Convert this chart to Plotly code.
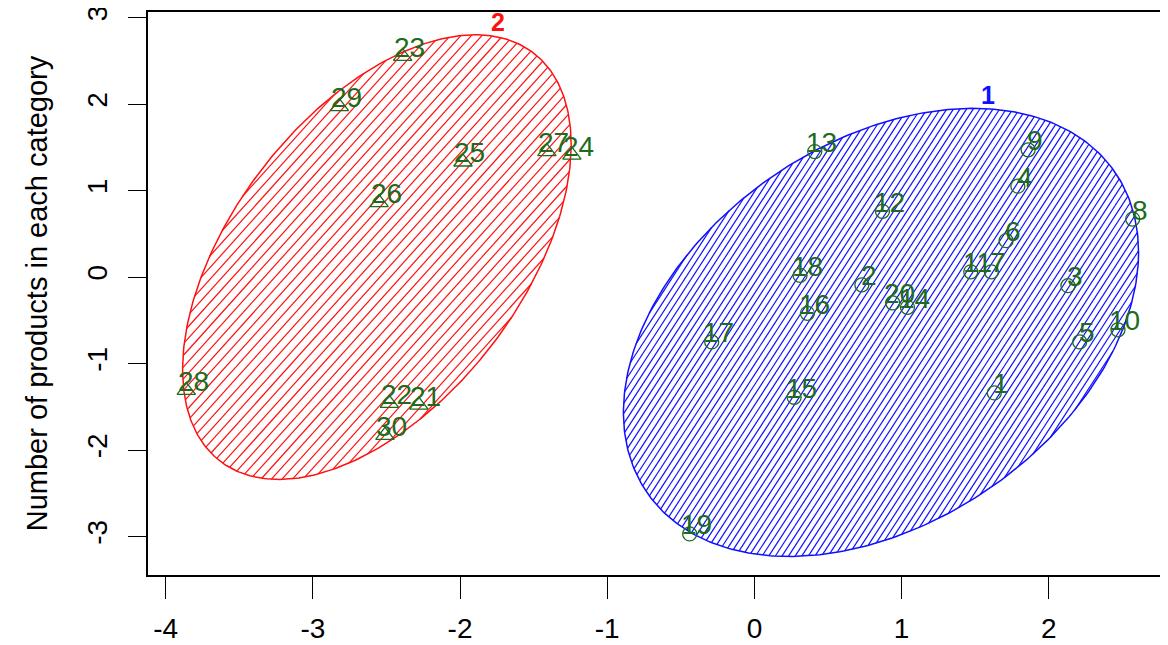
import numpy as np
import plotly.graph_objects as go

# ---- data ----
labels_c1 = [str(i) for i in range(1, 21)]
x_c1 = [1.63, 0.73, 2.13, 1.79, 2.21, 1.71, 1.61, 2.57, 1.86, 2.47,
        1.47, 0.87, 0.41, 1.04, 0.27, 0.36, -0.29, 0.31, -0.44, 0.94]
y_c1 = [-1.34, -0.09, -0.10, 1.05, -0.75, 0.42, 0.06, 0.67, 1.47, -0.61,
        0.06, 0.76, 1.45, -0.35, -1.39, -0.42, -0.75, 0.02, -2.97, -0.30]

labels_c2 = [str(i) for i in range(21, 31)]
x_c2 = [-2.28, -2.48, -2.39, -1.24, -1.98, -2.55, -1.41, -3.86, -2.82, -2.51]
y_c2 = [-1.48, -1.46, 2.55, 1.41, 1.33, 0.86, 1.45, -1.31, 1.97, -1.83]

# spanning ellipses: center, half-extent in x, half-extent in y, covariance term
cluster_names = ["1", "2"]
ell_cx = [0.86, -2.565]
ell_cy = [-0.64, 0.23]
ell_wx = [1.75, 1.32]
ell_wy = [2.59, 2.57]
ell_sxy = [1.62, 1.716]
ell_colors = ["#1010ff", "#ff1010"]
hatch_angle = [57, 48]        # degrees on screen
hatch_hspacing = [6.6, 10.5]  # horizontal spacing of hatch lines, px
label_shift = [(15, 13), (23, 13)]

x_ticks = [-4, -3, -2, -1, 0, 1, 2]
x_ticktext = ["-4", "-3", "-2", "-1", "0", "1", "2"]
y_ticks = [-3, -2, -1, 0, 1, 2, 3]
y_ticktext = ["-3", "-2", "-1", "0", "1", "2", "3"]

GREEN = "#1d6b1d"
FONT = "Liberation Sans, Arial, sans-serif"

# page body has an 8px margin, so the figure is made 8px smaller
W, H = 1160, 637
ML, MR, MT, MB = 140, 0, 4, 70
XR = [-4.12, 2.81]
YR = [-3.445, 3.064]
sx = (W - ML - MR) / (XR[1] - XR[0])   # px per x unit
sy = (H - MT - MB) / (YR[1] - YR[0])   # px per y unit

fig = go.Figure()
annotations = []

t = np.linspace(0, 2 * np.pi, 400)
for k in range(2):
    cx, cy = ell_cx[k], ell_cy[k]
    wx, wy, sxy = ell_wx[k], ell_wy[k], ell_sxy[k]
    l10 = sxy / wx
    l11 = np.sqrt(wy ** 2 - l10 ** 2)
    # hatch lines computed in screen space, clipped to the ellipse
    th = np.radians(hatch_angle[k])
    nx, ny = -np.sin(th), np.cos(th)
    A = nx * sx * wx + ny * sy * l10
    B = ny * sy * l11
    R = np.hypot(A, B)
    phi = np.arctan2(B, A)
    step = hatch_hspacing[k] * np.sin(th)
    hx, hy = [], []
    cvals = np.arange(-np.floor(R / step) * step, R, step)
    for c in cvals:
        if abs(c) >= R:
            continue
        d = np.arccos(c / R)
        for tt in (phi - d, phi + d):
            hx.append(cx + wx * np.cos(tt))
            hy.append(cy + l10 * np.cos(tt) + l11 * np.sin(tt))
        hx.append(None)
        hy.append(None)
    fig.add_trace(go.Scatter(
        x=hx, y=hy, mode="lines", line=dict(color=ell_colors[k], width=1.2),
        hoverinfo="skip", showlegend=False))
    ex = cx + wx * np.cos(t)
    ey = cy + l10 * np.cos(t) + l11 * np.sin(t)
    fig.add_trace(go.Scatter(
        x=ex, y=ey, mode="lines",
        line=dict(color=ell_colors[k], width=1.5),
        hoverinfo="skip", showlegend=False))
    annotations.append(dict(
        x=cx + sxy / wy, y=cy + wy, text="<b>" + cluster_names[k] + "</b>",
        showarrow=False, xshift=label_shift[k][0], yshift=label_shift[k][1],
        font=dict(family=FONT, size=25, color=ell_colors[k])))

fig.add_trace(go.Scatter(
    x=x_c1, y=y_c1, mode="markers",
    marker=dict(symbol="circle-open", size=14, color=GREEN, line=dict(width=1.3, color=GREEN)),
    showlegend=False))
fig.add_trace(go.Scatter(
    x=x_c2, y=y_c2, mode="markers",
    marker=dict(symbol="triangle-up-open", size=16, color=GREEN, line=dict(width=1.3, color=GREEN)),
    showlegend=False))

for xs, ys, ls in [(x_c1, y_c1, labels_c1), (x_c2, y_c2, labels_c2)]:
    for xv, yv, lv in zip(xs, ys, ls):
        annotations.append(dict(
            x=xv, y=yv, text=lv, showarrow=False, xshift=7, yshift=9,
            font=dict(family=FONT, size=28, color=GREEN)))

fig.update_layout(
    width=W, height=H,
    margin=dict(l=ML, r=MR, t=MT, b=MB),
    paper_bgcolor="white", plot_bgcolor="white",
    font=dict(family=FONT, size=28, color="black"),
    annotations=annotations,
    xaxis=dict(range=XR, tickvals=x_ticks, ticktext=x_ticktext, automargin=False,
               showgrid=False, zeroline=False, showline=True, linecolor="black",
               linewidth=1.5, mirror=True, ticks="outside", ticklen=22,
               tickcolor="black", tickwidth=1.2, tickfont=dict(size=28),
               ticklabelstandoff=6, ticklabeloverflow="allow"),
    yaxis=dict(range=YR, tickvals=y_ticks, ticktext=y_ticktext, automargin=False,
               showgrid=False, zeroline=False, showline=True, linecolor="black",
               linewidth=1.5, mirror=False, ticks="outside", ticklen=18,
               tickcolor="black", tickwidth=1.2, tickangle=-90, tickfont=dict(size=28),
               ticklabelstandoff=10, ticklabeloverflow="allow",
               title=dict(text="Number of products in each category", font=dict(size=29),
                          standoff=26)),
)

fig.write_html("out.html")
